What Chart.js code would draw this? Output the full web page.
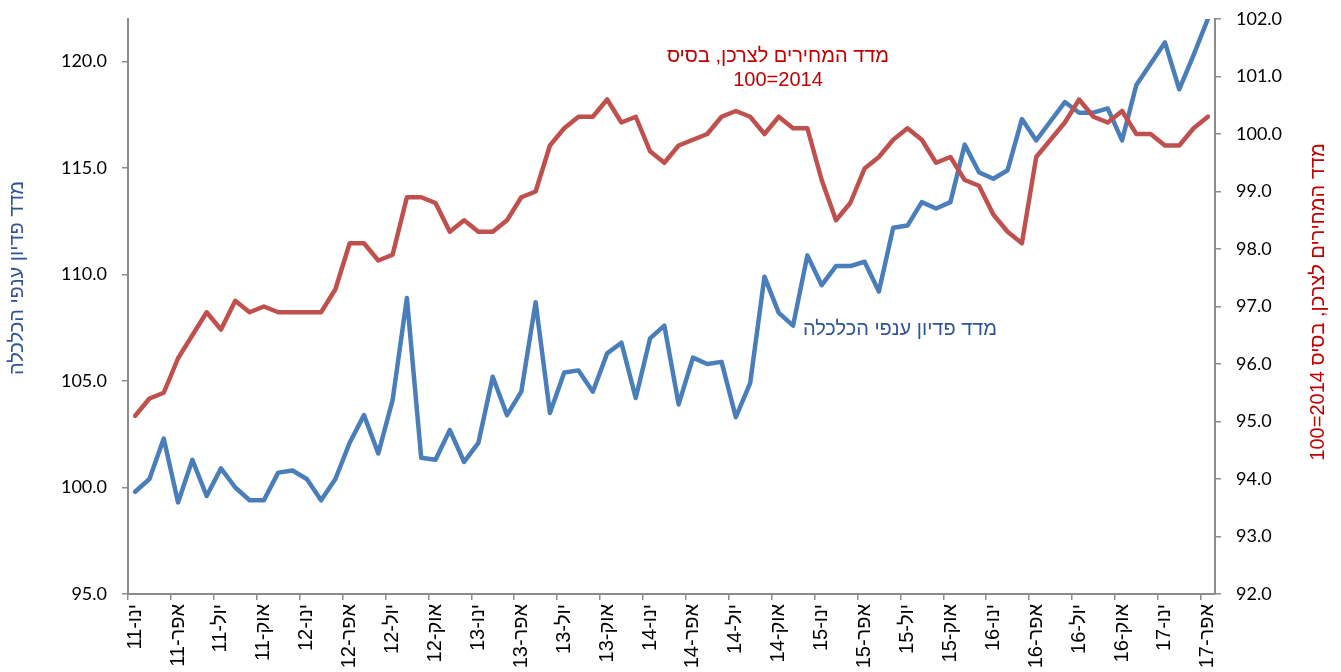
<!DOCTYPE html>
<html><head><meta charset="utf-8">
<script src="https://cdn.jsdelivr.net/npm/chart.js@4.4.1/dist/chart.umd.min.js"></script>
<style>html,body{margin:0;padding:0;background:#fff;overflow:hidden}canvas{display:block}</style>
</head><body>
<canvas id="c" width="1341" height="672" dir="rtl"></canvas>
<script>
const categories = [
'ינו-11','פבר-11','מרץ-11','אפר-11','מאי-11','יונ-11','יול-11','אוג-11','ספט-11','אוק-11','נוב-11','דצמ-11',
'ינו-12','פבר-12','מרץ-12','אפר-12','מאי-12','יונ-12','יול-12','אוג-12','ספט-12','אוק-12','נוב-12','דצמ-12',
'ינו-13','פבר-13','מרץ-13','אפר-13','מאי-13','יונ-13','יול-13','אוג-13','ספט-13','אוק-13','נוב-13','דצמ-13',
'ינו-14','פבר-14','מרץ-14','אפר-14','מאי-14','יונ-14','יול-14','אוג-14','ספט-14','אוק-14','נוב-14','דצמ-14',
'ינו-15','פבר-15','מרץ-15','אפר-15','מאי-15','יונ-15','יול-15','אוג-15','ספט-15','אוק-15','נוב-15','דצמ-15',
'ינו-16','פבר-16','מרץ-16','אפר-16','מאי-16','יונ-16','יול-16','אוג-16','ספט-16','אוק-16','נוב-16','דצמ-16',
'ינו-17','פבר-17','מרץ-17','אפר-17'];

const revenueIndex = [
99.8,100.4,102.3,99.3,101.3,99.6,100.9,100.0,99.4,99.4,
100.7,100.8,100.4,99.4,100.4,102.1,103.4,101.6,104.1,108.9,
101.4,101.3,102.7,101.2,102.1,105.2,103.4,104.5,108.7,103.5,
105.4,105.5,104.5,106.3,106.8,104.2,107.0,107.6,103.9,106.1,
105.8,105.9,103.3,104.9,109.9,108.2,107.6,110.9,109.5,110.4,
110.4,110.6,109.2,112.2,112.3,113.4,113.1,113.4,116.1,114.8,
114.5,114.9,117.3,116.3,117.2,118.1,117.6,117.6,117.8,116.3,
118.9,119.9,120.9,118.7,120.3,122.0];

const cpiIndex = [
95.1,95.4,95.5,96.1,96.5,96.9,96.6,97.1,96.9,97.0,
96.9,96.9,96.9,96.9,97.3,98.1,98.1,97.8,97.9,98.9,
98.9,98.8,98.3,98.5,98.3,98.3,98.5,98.9,99.0,99.8,
100.1,100.3,100.3,100.6,100.2,100.3,99.7,99.5,99.8,99.9,
100.0,100.3,100.4,100.3,100.0,100.3,100.1,100.1,99.2,98.5,
98.8,99.4,99.6,99.9,100.1,99.9,99.5,99.6,99.2,99.1,
98.6,98.3,98.1,99.6,99.9,100.2,100.6,100.3,100.2,100.4,
100.0,100.0,99.8,99.8,100.1,100.3];

const leftTitle = 'מדד פדיון ענפי הכלכלה';
const rightTitle = 'מדד המחירים לצרכן, בסיס 2014=100';
const cpiLabelLines = ['מדד המחירים לצרכן, בסיס', '2014=100'];
const revenueLabel = 'מדד פדיון ענפי הכלכלה';

const AXIS = '#8c8c8c';
const BLUE = '#4a7ebb';
const RED = '#c0504d';

const textPlugin = {
  id: 'texts',
  afterDraw(chart) {
    const ctx = chart.ctx;
    ctx.save();
    ctx.direction = 'rtl';
    ctx.textAlign = 'center';
    ctx.textBaseline = 'middle';
    ctx.save();
    ctx.translate(17, 278);
    ctx.rotate(-Math.PI / 2);
    ctx.font = '20px "Liberation Sans"';
    ctx.fillStyle = '#2f5597';
    ctx.fillText(leftTitle, 0, 0);
    ctx.restore();
    ctx.save();
    ctx.translate(1318, 302);
    ctx.rotate(-Math.PI / 2);
    ctx.font = '20px "Liberation Sans"';
    ctx.fillStyle = '#c00000';
    ctx.fillText(rightTitle, 0, 0);
    ctx.restore();
    ctx.font = '20px "Liberation Sans"';
    ctx.fillStyle = '#c00000';
    ctx.fillText(cpiLabelLines[0], 778, 56);
    ctx.fillText(cpiLabelLines[1], 778, 80);
    ctx.fillStyle = '#2f5597';
    ctx.fillText(revenueLabel, 900, 329);
    ctx.restore();
  }
};

function fixY(width) {
  return s => { s.width = width; s.paddingTop = 0; s.paddingBottom = 0; };
}

new Chart(document.getElementById('c'), {
  type: 'line',
  data: {
    labels: categories,
    datasets: [
      { label: 'cpi', data: cpiIndex, yAxisID: 'y1', borderColor: RED, borderWidth: 4.5,
        pointRadius: 0, tension: 0, borderJoinStyle: 'round', borderCapStyle: 'round', fill: false },
      { label: 'revenue', data: revenueIndex, yAxisID: 'y', borderColor: BLUE, borderWidth: 4.5,
        pointRadius: 0, tension: 0, borderJoinStyle: 'round', borderCapStyle: 'round', fill: false }
    ]
  },
  options: {
    responsive: false,
    animation: false,
    devicePixelRatio: 1,
    events: [],
    layout: { padding: { top: 19, left: 0, right: 0, bottom: 0 } },
    plugins: { legend: { display: false }, tooltip: { enabled: false } },
    scales: {
      x: {
        type: 'category',
        offset: true,
        grid: {
          offset: true, drawOnChartArea: false, drawTicks: true, tickLength: 6, lineWidth: 1.5,
          color: c => (c.index % 3 === 0 ? AXIS : 'rgba(0,0,0,0)'),
          tickColor: c => (c.index % 3 === 0 ? AXIS : 'rgba(0,0,0,0)')
        },
        border: { color: AXIS, width: 2 },
        ticks: {
          autoSkip: false, minRotation: 90, maxRotation: 90, padding: 4,
          color: '#000', font: { family: '"Liberation Sans"', size: 20 },
          callback: function (v, i) { return i % 3 === 0 ? categories[i] : ''; }
        },
        afterFit: s => { s.height = 78; s.paddingLeft = 0; s.paddingRight = 0; }
      },
      y: {
        position: 'left', min: 95, max: 122,
        grid: { drawOnChartArea: false, tickLength: 6, lineWidth: 1.5, color: AXIS },
        border: { color: AXIS, width: 2 },
        ticks: { stepSize: 5, includeBounds: false, padding: 15, color: '#000',
          font: { family: 'Lato', size: 18 }, callback: v => Number(v).toFixed(1) },
        afterFit: fixY(128)
      },
      y1: {
        position: 'right', min: 92, max: 102,
        grid: { drawOnChartArea: false, tickLength: 6, lineWidth: 1.5, color: AXIS },
        border: { color: AXIS, width: 2 },
        ticks: { stepSize: 1, padding: 15, color: '#000',
          font: { family: 'Lato', size: 18 }, callback: v => Number(v).toFixed(1) },
        afterFit: fixY(126)
      }
    }
  },
  plugins: [textPlugin]
});
</script>
</body></html>
